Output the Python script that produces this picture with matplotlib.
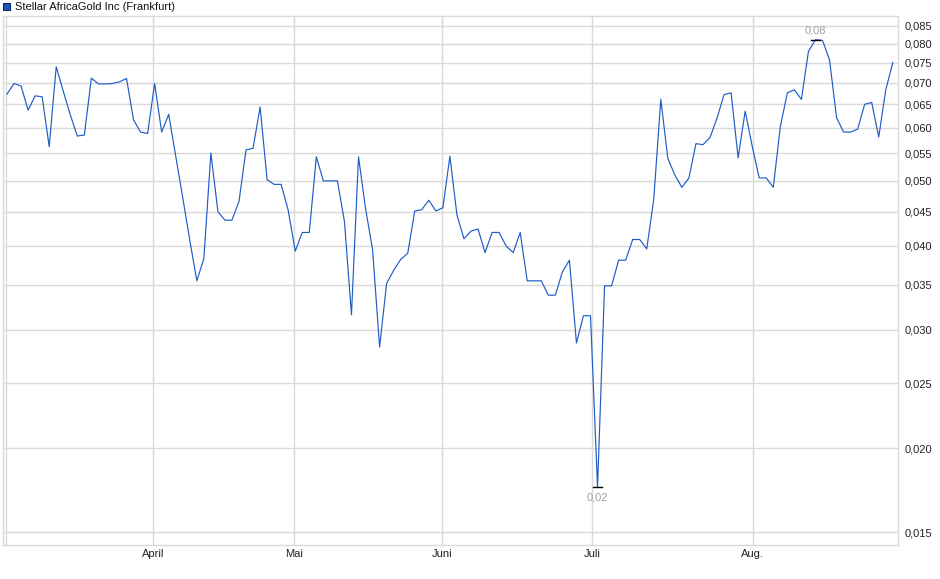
import matplotlib
matplotlib.use('Agg')
import matplotlib.pyplot as plt
from matplotlib.ticker import FixedLocator, NullLocator, FuncFormatter
import numpy as np

plt.rcParams['font.family'] = ['Liberation Sans', 'DejaVu Sans']

# Kurs (EUR), ein Wert pro Handelstag
prices = [
    0.0673, 0.0698, 0.0692, 0.0637, 0.0669, 0.0667, 0.0562, 0.0739, 0.0680, 0.0627,
    0.0583, 0.0585, 0.0711, 0.0697, 0.0697, 0.0698, 0.0702, 0.0710, 0.0616, 0.0591,
    0.0588, 0.0698, 0.0591, 0.0628, 0.0544, 0.0472, 0.0408, 0.0355, 0.0383, 0.0550,
    0.0450, 0.0437, 0.0437, 0.0466, 0.0556, 0.0559, 0.0644, 0.0502, 0.0494, 0.0494,
    0.0452, 0.0393, 0.0419, 0.0419, 0.0543, 0.0500, 0.0500, 0.0500, 0.0435, 0.0316,
    0.0543, 0.0455, 0.0395, 0.0283, 0.0352, 0.0368, 0.0382, 0.0390, 0.0451, 0.0453,
    0.0468, 0.0451, 0.0456, 0.0544, 0.0445, 0.0410, 0.0421, 0.0424, 0.0391, 0.0419,
    0.0419, 0.0400, 0.0391, 0.0419, 0.0355, 0.0355, 0.0355, 0.0338, 0.0338, 0.0366,
    0.0381, 0.0287, 0.0315, 0.0315, 0.0175, 0.0349, 0.0349, 0.0381, 0.0381, 0.0409,
    0.0409, 0.0396, 0.0470, 0.0661, 0.0540, 0.0510, 0.0489, 0.0505, 0.0568, 0.0566,
    0.0580, 0.0620, 0.0672, 0.0676, 0.0541, 0.0635, 0.0563, 0.0505, 0.0505, 0.0489,
    0.0602, 0.0676, 0.0683, 0.0661, 0.0779, 0.0811, 0.0809, 0.0757, 0.0621, 0.0591,
    0.0591, 0.0597, 0.0650, 0.0654, 0.0581, 0.0683, 0.0750,
]
month_labels = ['April', 'Mai', 'Juni', 'Juli', 'Aug.']
month_pos = [20.8, 40.8, 61.9, 83.2, 106.1]
y_ticks = [0.015, 0.020, 0.025, 0.030, 0.035, 0.040, 0.045, 0.050,
           0.055, 0.060, 0.065, 0.070, 0.075, 0.080, 0.085]

grid_col = '#d9d9d9'
line_col = '#1f5cc6'
text_col = '#222222'

fig = plt.figure(figsize=(9.4, 5.79), dpi=100)
ax = fig.add_axes([3 / 940, 34 / 579, 895 / 940, 529 / 579])

x = np.arange(len(prices))
ax.plot(x, prices, color=line_col, lw=0.85, zorder=3)

ax.set_yscale('log')
ax.set_ylim(0.01436, 0.08796)
ax.set_xlim(-0.57, 126.74)

ax.yaxis.set_major_locator(FixedLocator(y_ticks))
ax.yaxis.set_minor_locator(NullLocator())
ax.yaxis.set_major_formatter(FuncFormatter(lambda v, p: f'{v:.3f}'.replace('.', ',')))
ax.yaxis.tick_right()
ax.set_xticks(month_pos)
ax.set_xticklabels(month_labels)
ax.xaxis.set_minor_locator(NullLocator())
ax.tick_params(length=0, labelsize=8, colors=text_col)
ax.tick_params(axis='y', pad=5)
ax.tick_params(axis='x', pad=3)

ax.grid(True, color=grid_col, lw=1.0, zorder=0)
ax.axvline(-0.14, color=grid_col, lw=1.0, zorder=0)
for s in ax.spines.values():
    s.set_color(grid_col)
    s.set_linewidth(1.0)

# Hoch / Tief markieren
i_max = int(np.argmax(prices))
i_min = int(np.argmin(prices))
for i, dy, va in [(i_max, 3, 'bottom'), (i_min, -4, 'top')]:
    v = prices[i]
    ax.plot([i - 0.65, i + 0.65], [v, v], color='black', lw=1.0, zorder=4)
    ax.annotate(f'{v:.2f}'.replace('.', ','), (i, v), xytext=(0, dy),
                textcoords='offset points', ha='center', va=va,
                fontsize=8, color='#a0a0a0')

# Titel mit Farbkästchen
fig.patches.append(plt.Rectangle((3 / 940, 1 - 10 / 579), 7 / 940, 7 / 579,
                                 transform=fig.transFigure, facecolor='#1a56c0',
                                 edgecolor='#0d2a60', lw=0.8))
fig.text(15 / 940, 1 - 6.5 / 579, 'Stellar AfricaGold Inc (Frankfurt)',
         fontsize=8, color='#111111', va='center', ha='left')

fig.savefig('out.png', dpi=100)
